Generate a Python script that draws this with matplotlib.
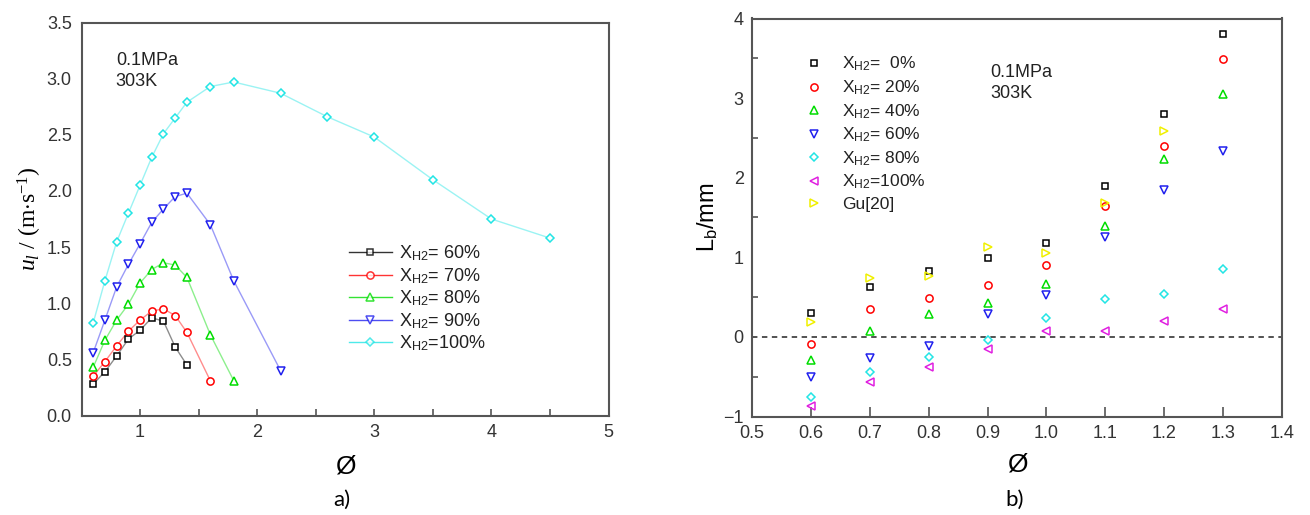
import numpy as np
import matplotlib
matplotlib.use('Agg')
import matplotlib.pyplot as plt
from matplotlib.ticker import MultipleLocator, FixedLocator

plt.rcParams['font.family'] = 'Liberation Sans'
plt.rcParams['mathtext.fontset'] = 'custom'
plt.rcParams['mathtext.rm'] = 'Liberation Serif'
plt.rcParams['mathtext.it'] = 'Liberation Serif:italic'
plt.rcParams['mathtext.sf'] = 'Liberation Sans'

# a) laminar burning velocity vs equivalence ratio
phi_60 = [0.6, 0.7, 0.8, 0.9, 1.0, 1.1, 1.2, 1.3, 1.4]
u_60 = [0.28, 0.39, 0.53, 0.68, 0.76, 0.87, 0.84, 0.61, 0.45]
phi_70 = [0.6, 0.7, 0.8, 0.9, 1.0, 1.1, 1.2, 1.3, 1.4, 1.6]
u_70 = [0.35, 0.48, 0.62, 0.75, 0.85, 0.93, 0.95, 0.89, 0.74, 0.31]
phi_80 = [0.6, 0.7, 0.8, 0.9, 1.0, 1.1, 1.2, 1.3, 1.4, 1.6, 1.8]
u_80 = [0.43, 0.67, 0.85, 0.99, 1.18, 1.30, 1.36, 1.34, 1.23, 0.72, 0.31]
phi_90 = [0.6, 0.7, 0.8, 0.9, 1.0, 1.1, 1.2, 1.3, 1.4, 1.6, 1.8, 2.2]
u_90 = [0.56, 0.85, 1.145, 1.345, 1.53, 1.72, 1.84, 1.95, 1.98, 1.70, 1.20, 0.40]
phi_100 = [0.6, 0.7, 0.8, 0.9, 1.0, 1.1, 1.2, 1.3, 1.4, 1.6, 1.8, 2.2, 2.6, 3.0, 3.5, 4.0, 4.5]
u_100 = [0.825, 1.20, 1.546, 1.80, 2.05, 2.30, 2.51, 2.65, 2.79, 2.93, 2.97, 2.87,
         2.66, 2.48, 2.10, 1.75, 1.58]

# b) Markstein length vs equivalence ratio
phi_b = [0.6, 0.7, 0.8, 0.9, 1.0, 1.1, 1.2, 1.3]
Lb_0 = [0.30, 0.63, 0.83, 0.99, 1.18, 1.90, 2.80, 3.81]
Lb_20 = [-0.09, 0.35, 0.49, 0.65, 0.90, 1.65, 2.40, 3.49]
Lb_40 = [-0.29, 0.08, 0.29, 0.43, 0.66, 1.39, 2.24, 3.05]
Lb_60 = [-0.51, -0.26, -0.11, 0.29, 0.53, 1.25, 1.85, 2.34]
Lb_80 = [-0.75, -0.44, -0.25, -0.04, 0.24, 0.47, 0.54, 0.85]
Lb_100 = [-0.87, -0.57, -0.38, -0.15, 0.08, 0.07, 0.20, 0.35]
phi_gu = [0.6, 0.7, 0.8, 0.9, 1.0, 1.1, 1.2]
Lb_gu = [0.19, 0.74, 0.76, 1.13, 1.06, 1.68, 2.59]

fig = plt.figure(figsize=(13.1, 5.15), dpi=100)
ax1 = fig.add_axes([81.5/1310, 1 - 415.5/515, 527/1310, 393/515])
ax2 = fig.add_axes([752/1310, 1 - 416.5/515, 530/1310, 398/515])

frame = '#555555'
tickc = '#333333'
for ax in (ax1, ax2):
    for s in ax.spines.values():
        s.set_color(frame)
        s.set_linewidth(1.5)
    ax.tick_params(which='both', direction='in', colors=frame, labelcolor=tickc,
                   labelsize=13, width=1.2)

msize = {'s': 4.6, 'o': 5.2, '^': 5.6, 'v': 5.6, 'D': 4.4, '<': 5.6, '>': 5.6}

left_series = [
    (phi_60, u_60, 's', 'black', r'X$_{\mathsf{H2}}$= 60%'),
    (phi_70, u_70, 'o', 'red', r'X$_{\mathsf{H2}}$= 70%'),
    (phi_80, u_80, '^', '#00dd00', r'X$_{\mathsf{H2}}$= 80%'),
    (phi_90, u_90, 'v', '#2020ee', r'X$_{\mathsf{H2}}$= 90%'),
    (phi_100, u_100, 'D', '#22e5e5', r'X$_{\mathsf{H2}}$=100%'),
]
for x, y, m, c, lab in left_series:
    ax1.plot(x, y, color=c, alpha=0.45, lw=1.0, zorder=2)
    ax1.plot(x, y, ls='none', marker=m, ms=msize[m], mfc='white', mec=c, mew=1.1,
             zorder=3)
    ax1.plot([], [], color=c, lw=1.0, marker=m, ms=msize[m], mfc='white', mec=c,
             mew=1.1, label=lab, alpha=0.8)

ax1.set_xlim(0.5, 5)
ax1.set_ylim(0, 3.5)
ax1.xaxis.set_major_locator(FixedLocator([1, 2, 3, 4, 5]))
ax1.xaxis.set_minor_locator(FixedLocator([1.5, 2.5, 3.5, 4.5]))
ax1.yaxis.set_major_locator(MultipleLocator(0.5))
ax1.yaxis.set_major_formatter(matplotlib.ticker.FormatStrFormatter('%.1f'))
ax1.tick_params(axis='x', which='both', length=5)
ax1.tick_params(axis='y', length=0, pad=7)
ax1.tick_params(axis='x', pad=6)
ax1.set_ylabel(r'$u_l$ / (m$\cdot$s$^{-1}$)', family='Liberation Serif', fontsize=17,
               labelpad=2)
ax1.set_xlabel('Ø', fontsize=19, labelpad=10)
ax1.text(0.065, 0.925, '0.1MPa\n303K', transform=ax1.transAxes, fontsize=13,
         va='top', ha='left', color='#222222', linespacing=1.3)
leg1 = ax1.legend(loc='upper left', bbox_to_anchor=(0.49, 0.46), frameon=False,
                  fontsize=13, handlelength=2.4, handletextpad=0.4, labelspacing=0.15,
                  borderpad=0)
for t in leg1.get_texts():
    t.set_color('#222222')

right_series = [
    (phi_b, Lb_0, 's', 'black', r'X$_{\mathsf{H2}}$=  0%'),
    (phi_b, Lb_20, 'o', 'red', r'X$_{\mathsf{H2}}$= 20%'),
    (phi_b, Lb_40, '^', '#00dd00', r'X$_{\mathsf{H2}}$= 40%'),
    (phi_b, Lb_60, 'v', '#2020ee', r'X$_{\mathsf{H2}}$= 60%'),
    (phi_b, Lb_80, 'D', '#22e5e5', r'X$_{\mathsf{H2}}$= 80%'),
    (phi_b, Lb_100, '<', '#e020e0', r'X$_{\mathsf{H2}}$=100%'),
    (phi_gu, Lb_gu, '>', '#f0f000', 'Gu[20]'),
]
for x, y, m, c, lab in right_series:
    ax2.plot(x, y, ls='none', marker=m, ms=msize[m], mfc='none', mec=c, mew=1.1,
             label=lab, zorder=3)

ax2.axhline(0, color='#444444', ls=(0, (3, 2.5)), lw=1.3, zorder=1)
ax2.set_xlim(0.5, 1.4)
ax2.set_ylim(-1, 4)
ax2.xaxis.set_major_locator(MultipleLocator(0.1))
ax2.xaxis.set_major_formatter(matplotlib.ticker.FormatStrFormatter('%.1f'))
ax2.yaxis.set_major_locator(MultipleLocator(1))
ax2.yaxis.set_minor_locator(MultipleLocator(0.5))
ax2.tick_params(axis='x', length=7, pad=6)
ax2.tick_params(axis='y', which='major', length=0, pad=6)
ax2.tick_params(axis='y', which='minor', length=4)
ax2.set_ylabel(r'L$_{\mathsf{b}}$/mm', fontsize=17, labelpad=2)
ax2.set_xlabel('Ø', fontsize=19, labelpad=8)
ax2.text(0.45, 0.885, '0.1MPa\n303K', transform=ax2.transAxes, fontsize=13,
         va='top', ha='left', color='#222222', linespacing=1.3)
leg2 = ax2.legend(loc='upper left', bbox_to_anchor=(0.085, 0.93), frameon=False,
                  fontsize=12.5, handlelength=1.0, handletextpad=1.1, labelspacing=0.3,
                  borderpad=0)
for t in leg2.get_texts():
    t.set_color('#222222')

fig.text(342 / 1310, 1 - 500 / 515, 'a)', family='Lato', fontsize=16, ha='center',
         va='center')
fig.text(1015 / 1310, 1 - 500 / 515, 'b)', family='Lato', fontsize=16, ha='center',
         va='center')

fig.savefig('out.png', dpi=100)
